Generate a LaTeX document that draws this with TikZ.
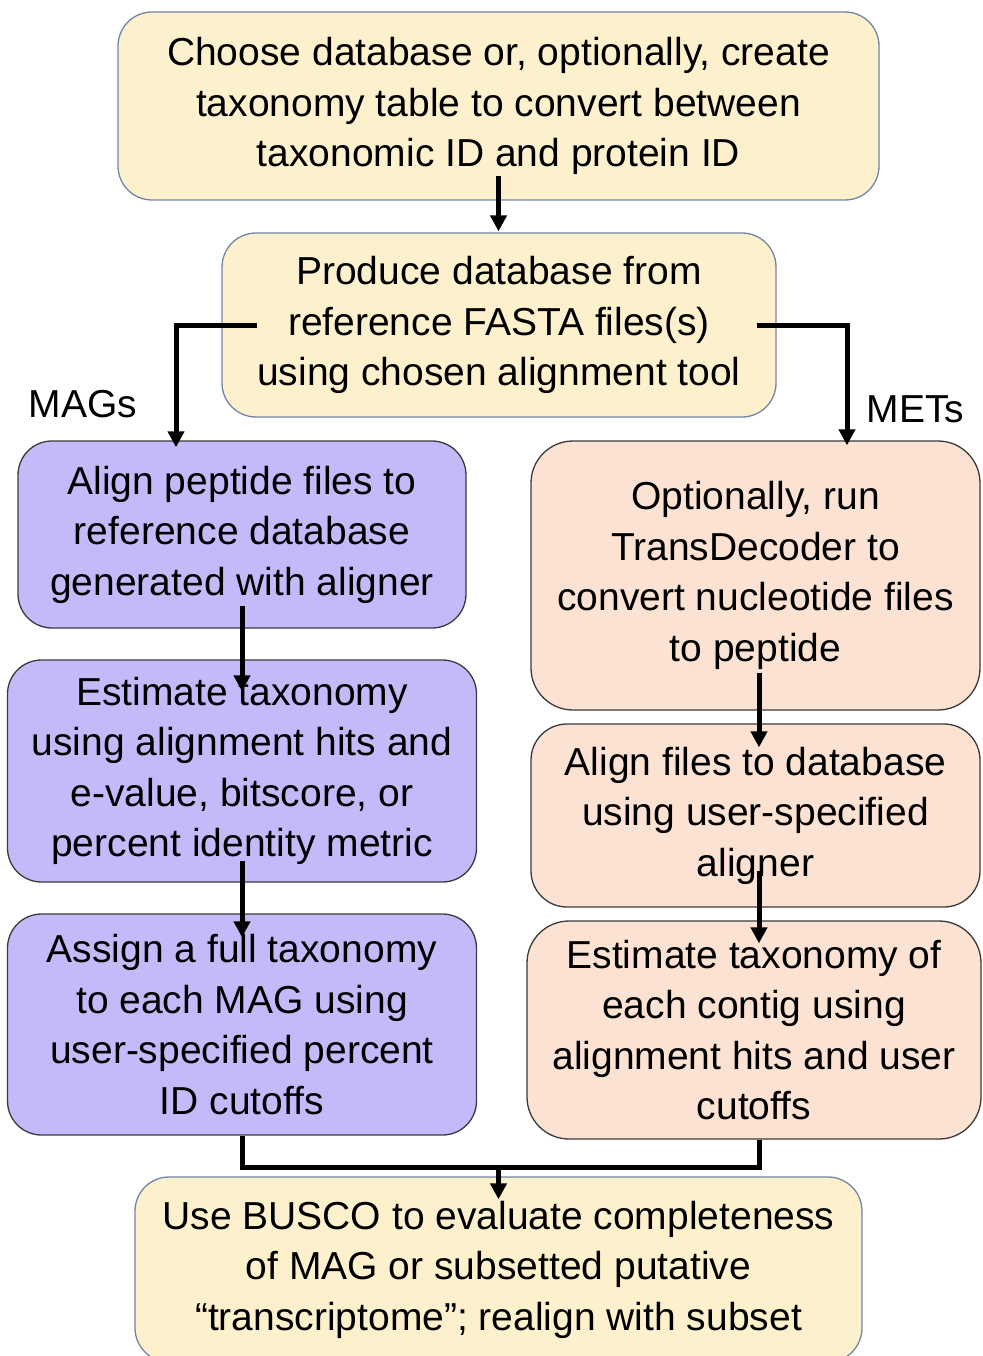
\documentclass[tikz,border=0pt]{standalone}
\usepackage{fontspec}
\setmainfont{Liberation Sans}
\usetikzlibrary{arrows.meta}
\definecolor{yfill}{HTML}{FDF0CC}
\definecolor{yline}{HTML}{7185A8}
\definecolor{pfill}{HTML}{C6B9FA}
\definecolor{rfill}{HTML}{FCE2D2}
\definecolor{dline}{HTML}{3A3A3A}
\begin{document}
\begin{tikzpicture}[x=1pt,y=-1pt,
  box/.style={rectangle,rounded corners=34pt,inner sep=0pt,align=center,
    font=\fontsize{39pt}{50.5pt}\selectfont,line width=1.3pt},
  ybox/.style={box,draw=yline,fill=yfill},
  pbox/.style={box,draw=dline,fill=pfill},
  rbox/.style={box,draw=dline,fill=rfill,rounded corners=42pt},
  conn/.style={line width=5pt,black},
  arr/.style={conn,-{Triangle[length=16pt,width=16pt]}},
  lab/.style={font=\fontsize{39pt}{47pt}\selectfont,inner sep=0pt,anchor=base}]
\useasboundingbox (0,0) rectangle (982,1356);
\node[ybox,minimum width=761pt,minimum height=188pt] (b1) at (498.5,106)
  {Choose database or, optionally, create\\taxonomy table to convert between\\taxonomic ID and protein ID};
\node[ybox,minimum width=554pt,minimum height=184pt] (b2) at (499,325)
  {Produce database from\\reference FASTA files(s)\\using chosen alignment tool};
\node[pbox,minimum width=448pt,minimum height=187pt] (b3) at (242,534.5)
  {Align peptide files to\\reference database\\generated with aligner};
\node[pbox,minimum width=469pt,minimum height=222pt] (b4) at (242,771)
  {Estimate taxonomy\\using alignment hits and\\e-value, bitscore, or\\percent identity metric};
\node[pbox,minimum width=469pt,minimum height=221pt] (b5) at (242,1024.5)
  {Assign a full taxonomy\\to each MAG using\\user-specified percent\\ID cutoffs};
\node[rbox,minimum width=449pt,minimum height=269pt] (r1) at (755.5,575.5)
  {Optionally, run\\TransDecoder to\\convert nucleotide files\\to peptide};
\node[rbox,minimum width=449pt,minimum height=183pt,rounded corners=36pt] (r2) at (755.5,815.5)
  {Align files to database\\using user-specified\\aligner};
\node[rbox,minimum width=454pt,minimum height=218pt] (r3) at (754,1030)
  {Estimate taxonomy of\\each contig using\\alignment hits and user\\cutoffs};
\node[ybox,minimum width=727pt,minimum height=185pt] (b6) at (498.5,1269.5)
  {Use BUSCO to evaluate completeness\\of MAG or subsetted putative\\“transcriptome”; realign with subset};
\node[lab] (mags) at (83,417) {MAGs};
\node[lab] (mets) at (915.5,422) {METs};
% connectors
\draw[arr] ([yshift=25pt]b1.south) -- ([yshift=1pt]b1.south |- b2.north);
\draw[arr] ([xshift=36pt]b2.west) -| ([xshift=-66pt,yshift=-7pt]b3.north);
\draw[arr] ([xshift=-20pt]b2.east) -| ([xshift=91.5pt,yshift=-5pt]r1.north);
\draw[arr] ([yshift=23pt]b3.south) -- ([yshift=-32pt]b4.north);
\draw[arr] ([yshift=22pt]b4.south) -- ([yshift=-24pt]b5.north);
\draw[arr] ([xshift=3.5pt,yshift=38pt]r1.south) -- ([xshift=3.5pt,yshift=-24pt]r2.north);
\draw[arr] ([xshift=3.5pt,yshift=37pt]r2.south) -- ([xshift=5pt,yshift=-23pt]r3.north);
\coordinate (m) at (498.5,1167);
\draw[conn] (b5.south) |- (m) -| ([xshift=5pt]r3.south);
\draw[arr] ([yshift=2pt]m) -- ([yshift=-23pt]m |- b6.north);
\end{tikzpicture}
\end{document}
